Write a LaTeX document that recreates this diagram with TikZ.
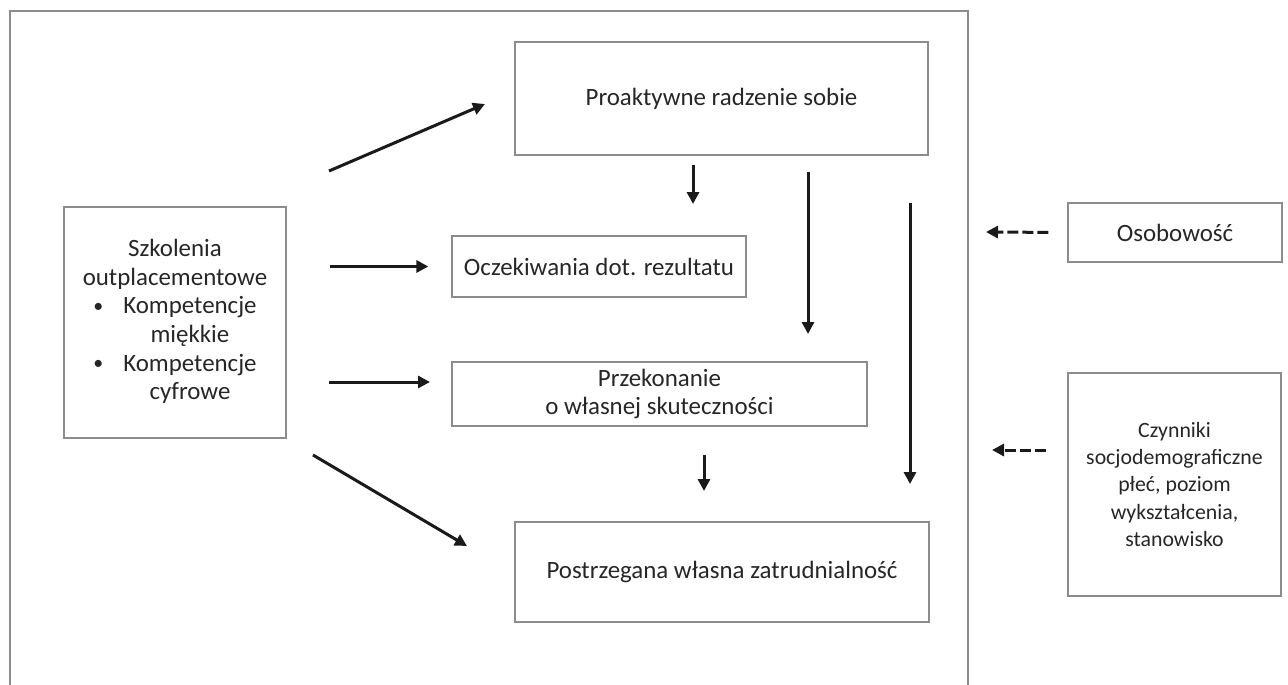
\documentclass[tikz,border=0pt]{standalone}
\usepackage{fontspec}
\setmainfont{Carlito}
\usetikzlibrary{arrows.meta}
\definecolor{boxgray}{HTML}{8C8C8C}
\definecolor{ink}{HTML}{1A1A1A}
\definecolor{txt}{HTML}{262626}
\newcommand{\smallbullet}{\raisebox{0.1ex}{\scalebox{0.8}{\textbullet}}}
\tikzset{
  box/.style={draw=boxgray, line width=1.3pt, inner sep=0pt, align=center,
    text=txt, font=\fontsize{24.9}{28.6}\selectfont},
  arr/.style={draw=ink, line width=3pt, -{Triangle[length=12pt,width=12pt]}},
  darr/.style={arr, dash pattern=on 11pt off 4pt},
  frameline/.style={draw=boxgray, line width=1.4pt}
}
\begin{document}
\begin{tikzpicture}[x=1pt, y=-1pt]
\useasboundingbox (0,0) rectangle (1288,685);

% open frame around the model
\draw[frameline] (10,685) -- (10,11) -- (968,11) -- (968,685);

% boxes
\node[box, minimum width=413pt, minimum height=113pt] (pro) at (721.5,98.5) {Proaktywne radzenie sobie};
\node[box, minimum width=294pt, minimum height=61pt] (oc) at (599,266.5) {Oczekiwania dot. rezultatu};
\node[box, minimum width=415pt, minimum height=64pt] (prz) at (659.5,394) {Przekonanie\\o własnej skuteczności};
\node[box, minimum width=414pt, minimum height=100pt] (post) at (722,572) {Postrzegana własna zatrudnialność};
\node[box, minimum width=222pt, minimum height=231pt] (szk) at (175,322.5) {%
  \begin{tabular}{@{}c@{}}
  Szkolenia\\
  outplacementowe\\
  \begin{tabular}[t]{@{}c@{\hspace{20pt}}c@{}}
  \smallbullet & Kompetencje\\
               & miękkie\\
  \smallbullet & Kompetencje\\
               & cyfrowe
  \end{tabular}
  \end{tabular}};
\node[box, minimum width=214pt, minimum height=59pt] (oso) at (1175,232.5) {Osobowość};
\node[box, minimum width=213pt, minimum height=223pt, font=\fontsize{21.8}{27.4}\selectfont] (czy) at (1174.5,484.5)
  {Czynniki\\socjodemograficzne\\płeć, poziom\\wykształcenia,\\stanowisko};

% arrow end points
\coordinate (a1s) at (329,171);  \coordinate (a1e) at (485,104);
\coordinate (a3s) at (329,382);  \coordinate (a3e) at (430,382);
\coordinate (a4s) at (313,455);  \coordinate (a4e) at (467,546);
\coordinate (a5s) at (693,165);  \coordinate (a5e) at (693,204);
\coordinate (a6s) at (808,172);  \coordinate (a6e) at (808,334);
\coordinate (a7s) at (910,203);  \coordinate (a7e) at (910,484);
\coordinate (a8s) at (704,455);  \coordinate (a8e) at (704,491);
\coordinate (d1e) at (986,232);
\coordinate (d2s) at (1046,450); \coordinate (d2e) at (992,450);

% paths of influence
\draw[arr] (a1s) -- (a1e);
\draw[arr, shorten <=43pt, shorten >=23pt] (szk.east |- oc.west) -- (oc.west);
\draw[arr] (a3s) -- (a3e);
\draw[arr] (a4s) -- (a4e);
\draw[arr] (a5s) -- (a5e);
\draw[arr] (a6s) -- (a6e);
\draw[arr] (a7s) -- (a7e);
\draw[arr] (a8s) -- (a8e);

% moderators
\draw[darr, shorten <=19pt] (oso.west) -- (d1e);
\draw[darr] (d2s) -- (d2e);
\end{tikzpicture}
\end{document}
